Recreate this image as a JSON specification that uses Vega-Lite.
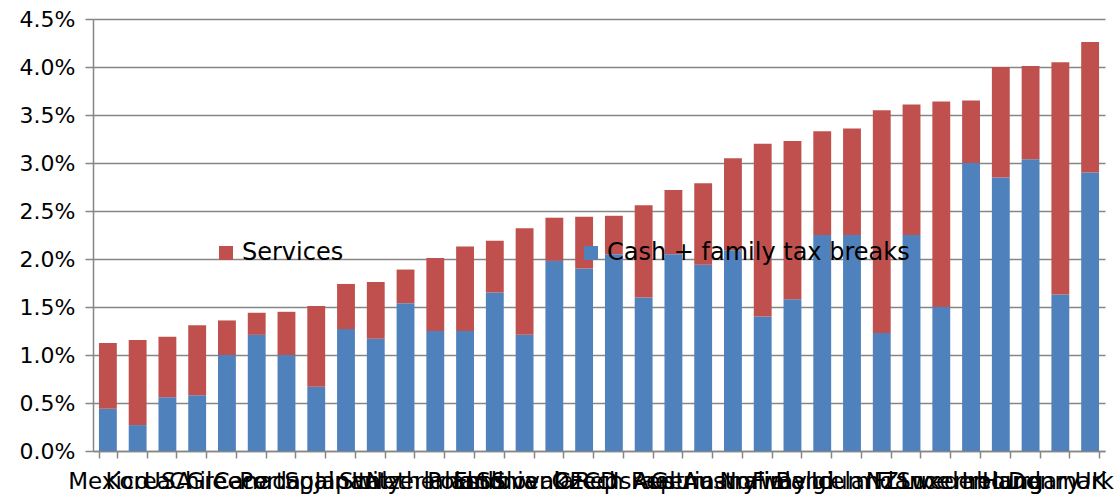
{
  "$schema": "https://vega.github.io/schema/vega-lite/v6.json",
  "width": 1012,
  "height": 432,
  "autosize": "none",
  "padding": {"left": 93, "top": 19, "right": 15, "bottom": 50},
  "background": "white",
  "config": {
    "font": "DejaVu Sans",
    "view": {"stroke": null}
  },
  "data": {
    "values": [
      {"country": "Mexico", "total": 1.125, "cash": 0.44},
      {"country": "Korea", "total": 1.156, "cash": 0.27},
      {"country": "USA", "total": 1.19, "cash": 0.56},
      {"country": "Chile", "total": 1.31, "cash": 0.58},
      {"country": "Greece", "total": 1.36, "cash": 1.0},
      {"country": "Canada", "total": 1.44, "cash": 1.21},
      {"country": "Portugal", "total": 1.45, "cash": 1.0},
      {"country": "Spain", "total": 1.51, "cash": 0.67},
      {"country": "Japan", "total": 1.74, "cash": 1.27},
      {"country": "Italy", "total": 1.76, "cash": 1.17},
      {"country": "Switzerland", "total": 1.89, "cash": 1.54},
      {"country": "Netherlands", "total": 2.01, "cash": 1.25},
      {"country": "Poland", "total": 2.13, "cash": 1.25},
      {"country": "Estonia", "total": 2.19, "cash": 1.65},
      {"country": "Slovenia", "total": 2.32, "cash": 1.21},
      {"country": "Slovak Rep", "total": 2.43, "cash": 1.98},
      {"country": "OECD", "total": 2.44, "cash": 1.90},
      {"country": "Czech Rep", "total": 2.45, "cash": 2.05},
      {"country": "Israel", "total": 2.56, "cash": 1.60},
      {"country": "Austria", "total": 2.72, "cash": 2.05},
      {"country": "Germany", "total": 2.79, "cash": 1.94},
      {"country": "Australia", "total": 3.05, "cash": 2.09},
      {"country": "Norway", "total": 3.20, "cash": 1.40},
      {"country": "Finland", "total": 3.23, "cash": 1.58},
      {"country": "Belgium", "total": 3.33, "cash": 2.25},
      {"country": "Iceland", "total": 3.36, "cash": 2.25},
      {"country": "NZ", "total": 3.55, "cash": 1.23},
      {"country": "France", "total": 3.61, "cash": 2.25},
      {"country": "Sweden", "total": 3.64, "cash": 1.50},
      {"country": "Luxembourg", "total": 3.65, "cash": 3.00},
      {"country": "Ireland", "total": 4.00, "cash": 2.85},
      {"country": "Hungary", "total": 4.01, "cash": 3.04},
      {"country": "Denmark", "total": 4.05, "cash": 1.63},
      {"country": "UK", "total": 4.26, "cash": 2.90}
    ]
  },
  "transform": [
    {"calculate": "datum.total - datum.cash", "as": "services"},
    {"fold": ["cash", "services"], "as": ["key", "pct"]},
    {"calculate": "datum.pct / 100", "as": "value"},
    {"calculate": "datum.key == 'cash' ? 'Cash + family tax breaks' : 'Services'", "as": "type"},
    {"calculate": "datum.key == 'cash' ? 0 : 1", "as": "ord"}
  ],
  "mark": {"type": "bar"},
  "encoding": {
    "x": {
      "field": "country",
      "type": "nominal",
      "sort": null,
      "scale": {"paddingInner": 0.4, "paddingOuter": 0.2},
      "axis": {
        "title": null,
        "labelAngle": 0,
        "labelOverlap": false,
        "labelBound": false,
        "labelFontSize": 23,
        "labelColor": "#000000",
        "labelPadding": 12,
        "tickBand": "extent",
        "tickSize": 7,
        "tickColor": "#868686",
        "tickWidth": 1.5,
        "domainColor": "#868686",
        "domainWidth": 1.5,
        "grid": false
      }
    },
    "y": {
      "field": "value",
      "type": "quantitative",
      "stack": "zero",
      "scale": {"domain": [0, 0.045], "nice": false},
      "axis": {
        "title": null,
        "values": [0, 0.005, 0.01, 0.015, 0.02, 0.025, 0.03, 0.035, 0.04, 0.045],
        "format": ".1%",
        "labelFontSize": 22,
        "labelColor": "#000000",
        "labelPadding": 10,
        "tickSize": 8,
        "tickColor": "#868686",
        "tickWidth": 1.5,
        "domainColor": "#868686",
        "domainWidth": 1.5,
        "grid": true,
        "gridColor": "#868686",
        "gridWidth": 1.5
      }
    },
    "color": {
      "field": "type",
      "type": "nominal",
      "scale": {"domain": ["Services", "Cash + family tax breaks"], "range": ["#C0504D", "#4F81BD"]},
      "legend": {
        "orient": "none",
        "legendX": 121,
        "legendY": 222,
        "direction": "horizontal",
        "title": null,
        "symbolType": "square",
        "symbolSize": 196,
        "symbolStrokeWidth": 0,
        "labelFontSize": 24,
        "labelColor": "#000000",
        "labelOffset": 4,
        "labelLimit": 0,
        "columnPadding": 235
      }
    },
    "order": {"field": "ord", "type": "quantitative"}
  }
}
